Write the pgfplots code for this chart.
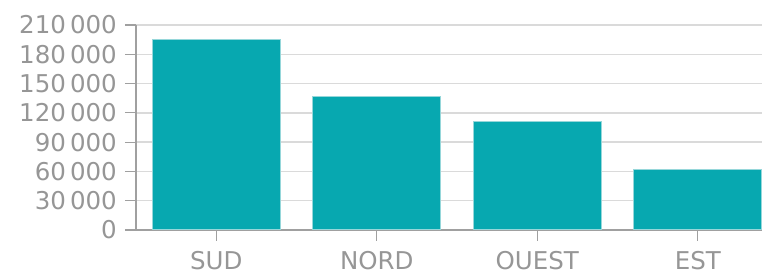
\documentclass[border=0pt]{standalone}
\usepackage{fontspec}
\setmainfont{DejaVu Sans}
\usepackage{pgfplots}
\pgfplotsset{compat=1.18}
\definecolor{barc}{RGB}{7,168,176}
\definecolor{baredge}{RGB}{150,215,218}
\definecolor{axc}{RGB}{160,160,160}
\definecolor{gridc}{RGB}{218,218,218}
\definecolor{txt}{RGB}{150,150,150}
\begin{document}
\fontsize{24}{28}\selectfont
\begin{tikzpicture}
\useasboundingbox (-136pt,-45pt) rectangle (626pt,230pt);
\begin{axis}[
 at={(0,0)}, anchor=south west,
 scale only axis, width=626pt, height=205pt,
 xmin=-0.5, xmax=3.4, ymin=0, ymax=210000,
 axis x line*=bottom, axis y line*=left,
 axis line style={axc, line width=1.6pt, -},
 xtick={0,1,2,3}, xticklabels={SUD,NORD,OUEST,EST},
 ytick={0,30000,...,210000},
 scaled y ticks=false,
 yticklabel style={/pgf/number format/.cd, fixed, 1000 sep={\,}},
 /pgf/number format/assume math mode=true,
 tick align=outside, major tick length=11pt,
 tick style={axc, line width=1.2pt},
 ymajorgrids, grid style={gridc, line width=1.3pt},
 ticklabel style={font=\fontsize{24.5}{28}\selectfont, text=txt},
 xticklabel style={yshift=-9pt, inner sep=1pt},
]
\addplot[ybar, bar width=0.795, fill=barc, draw=baredge, line width=1pt] coordinates {(0,195000) (1,137000) (2,111000) (3,61500)};
\end{axis}
\end{tikzpicture}
\end{document}
